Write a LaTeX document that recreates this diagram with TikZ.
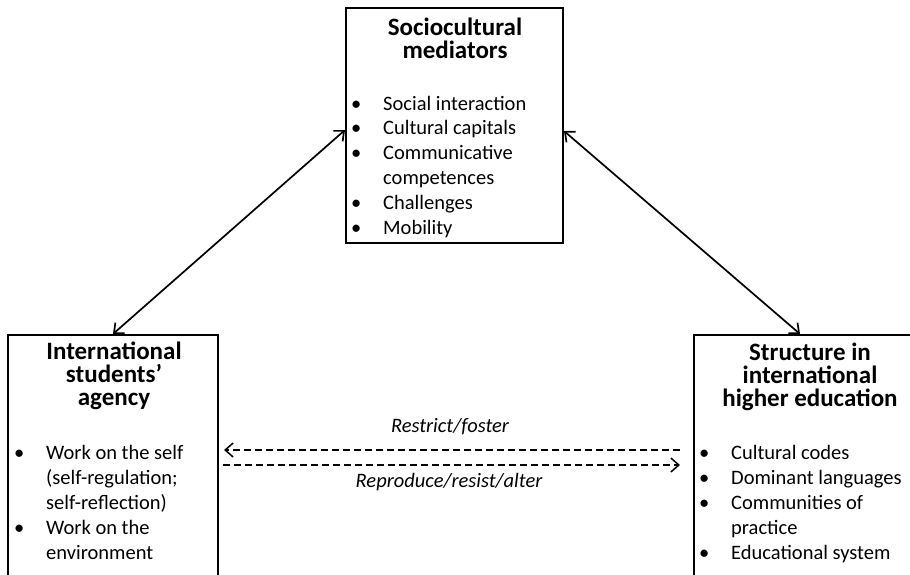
\documentclass[tikz,border=0pt]{standalone}
\usepackage{fontspec}
\setmainfont{Carlito}
\usetikzlibrary{arrows.meta}
\newcommand{\bl}{\makebox[28pt][l]{\hspace{-4pt}•}}
\newcommand{\ind}{\hspace*{28pt}}
\begin{document}
\begin{tikzpicture}[x=1pt,y=-1pt,
  box/.style={draw, line width=2pt, inner sep=0pt},
  ttl/.style={font=\fontsize{25}{23}\selectfont\bfseries, align=center, inner sep=0pt},
  lst/.style={font=\fontsize{20.5}{24.8}\selectfont, align=left, inner sep=0pt},
  conn/.style={line width=1.7pt, {Straight Barb[length=8pt,width=14pt]}-{Straight Barb[length=8pt,width=14pt]}},
  dsh/.style={line width=1.5pt, dash pattern=on 7pt off 4pt},
  lbl/.style={font=\fontsize{20.5}{25}\selectfont\itshape, inner sep=0pt}]
\useasboundingbox (0,0) rectangle (910,574);
\clip (0,0) rectangle (910,574);
% boxes
\node[box, minimum width=217pt, minimum height=235pt, anchor=north west] (top) at (345,7) {};
\node[box, minimum width=210pt, minimum height=266pt, anchor=north west] (left) at (7,334) {};
\node[box, minimum width=222pt, minimum height=266pt, anchor=north west] (right) at (693,334) {};
% titles (anchor base = last line)
\node[ttl, anchor=base] (ttop) at (455,58) {Sociocultural\\mediators};
\node[ttl, anchor=base] (tleft) at (114,405) {International\\students’\\agency};
\node[ttl, anchor=base] (tright) at (810,406) {Structure in\\international\\higher education};
% lists
\node[lst, anchor=base west] (ltop) at (355,234) {\bl Social interaction\\\bl Cultural capitals\\\bl Communicative\\\ind competences\\\bl Challenges\\\bl Mobility};
\node[lst, anchor=base west] (lleft) at (18,559) {\bl Work on the self\\\ind (self-regulation;\\\ind self-reflection)\\\bl Work on the\\\ind environment};
\node[lst, anchor=base west] (lright) at (703,559) {\bl Cultural codes\\\bl Dominant languages\\\bl Communities of\\\ind practice\\\bl Educational system};
% connectors
\draw[conn] ([yshift=-123pt]top.north west) -- ([xshift=106pt]left.north west);
\draw[conn] ([yshift=-124pt]top.north east) -- ([xshift=107pt]right.north west);
\draw[dsh, -{Straight Barb[length=8pt,width=14pt]}] ([shift={(-13pt,-116pt)}]right.north west) -- ([shift={(5pt,-116pt)}]left.north east);
\draw[dsh, -{Straight Barb[length=8pt,width=14pt]}] ([shift={(4pt,-131pt)}]left.north east) -- ([shift={(-13pt,-131pt)}]right.north west);
% labels
\node[lbl, anchor=base] (l1) at (450,432) {Restrict/foster};
\node[lbl, anchor=base] (l2) at (449,487) {Reproduce/resist/alter};
\end{tikzpicture}
\end{document}
